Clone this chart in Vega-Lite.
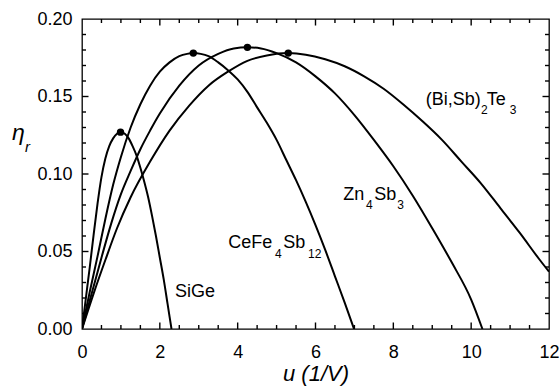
{
  "$schema": "https://vega.github.io/schema/vega-lite/v6.json",
  "autosize": {"type": "none"},
  "padding": {"left": 82, "top": 19, "right": 11, "bottom": 58},
  "width": 467,
  "height": 310,
  "background": "white",
  "config": {
    "font": "Liberation Sans",
    "view": {"stroke": "black", "strokeWidth": 1.3},
    "axis": {"grid": false, "domain": false, "labelColor": "black", "titleColor": "black", "labelFont": "Liberation Sans", "titleFont": "Liberation Sans", "labelFontSize": 18, "labelFlush": false}
  },
  "datasets": {
    "curves": [
      {"series": "SiGe", "u": 0, "eta": 0},
      {"series": "SiGe", "u": 0.1, "eta": 0.02},
      {"series": "SiGe", "u": 0.2, "eta": 0.04},
      {"series": "SiGe", "u": 0.3, "eta": 0.061},
      {"series": "SiGe", "u": 0.4, "eta": 0.081},
      {"series": "SiGe", "u": 0.5, "eta": 0.098},
      {"series": "SiGe", "u": 0.6, "eta": 0.11},
      {"series": "SiGe", "u": 0.7, "eta": 0.118},
      {"series": "SiGe", "u": 0.8, "eta": 0.123},
      {"series": "SiGe", "u": 0.9, "eta": 0.126},
      {"series": "SiGe", "u": 0.99, "eta": 0.127},
      {"series": "SiGe", "u": 1.1, "eta": 0.126},
      {"series": "SiGe", "u": 1.2, "eta": 0.123},
      {"series": "SiGe", "u": 1.3, "eta": 0.118},
      {"series": "SiGe", "u": 1.4, "eta": 0.112},
      {"series": "SiGe", "u": 1.5, "eta": 0.104},
      {"series": "SiGe", "u": 1.6, "eta": 0.095},
      {"series": "SiGe", "u": 1.7, "eta": 0.085},
      {"series": "SiGe", "u": 1.8, "eta": 0.073},
      {"series": "SiGe", "u": 1.9, "eta": 0.06},
      {"series": "SiGe", "u": 2.0, "eta": 0.046},
      {"series": "SiGe", "u": 2.1, "eta": 0.032},
      {"series": "SiGe", "u": 2.2, "eta": 0.016},
      {"series": "SiGe", "u": 2.3, "eta": 0},
      {"series": "CeFe4Sb12", "u": 0, "eta": 0},
      {"series": "CeFe4Sb12", "u": 0.2, "eta": 0.024},
      {"series": "CeFe4Sb12", "u": 0.4, "eta": 0.047},
      {"series": "CeFe4Sb12", "u": 0.6, "eta": 0.071},
      {"series": "CeFe4Sb12", "u": 0.8, "eta": 0.093},
      {"series": "CeFe4Sb12", "u": 1.0, "eta": 0.111},
      {"series": "CeFe4Sb12", "u": 1.25, "eta": 0.13},
      {"series": "CeFe4Sb12", "u": 1.5, "eta": 0.145},
      {"series": "CeFe4Sb12", "u": 1.75, "eta": 0.157},
      {"series": "CeFe4Sb12", "u": 2.0, "eta": 0.166},
      {"series": "CeFe4Sb12", "u": 2.25, "eta": 0.172},
      {"series": "CeFe4Sb12", "u": 2.5, "eta": 0.176},
      {"series": "CeFe4Sb12", "u": 2.7, "eta": 0.1775},
      {"series": "CeFe4Sb12", "u": 2.86, "eta": 0.178},
      {"series": "CeFe4Sb12", "u": 3.05, "eta": 0.1775},
      {"series": "CeFe4Sb12", "u": 3.25, "eta": 0.176},
      {"series": "CeFe4Sb12", "u": 3.5, "eta": 0.172},
      {"series": "CeFe4Sb12", "u": 3.75, "eta": 0.167},
      {"series": "CeFe4Sb12", "u": 4.0, "eta": 0.161},
      {"series": "CeFe4Sb12", "u": 4.25, "eta": 0.153},
      {"series": "CeFe4Sb12", "u": 4.5, "eta": 0.143},
      {"series": "CeFe4Sb12", "u": 4.75, "eta": 0.133},
      {"series": "CeFe4Sb12", "u": 5.0, "eta": 0.122},
      {"series": "CeFe4Sb12", "u": 5.25, "eta": 0.109},
      {"series": "CeFe4Sb12", "u": 5.5, "eta": 0.096},
      {"series": "CeFe4Sb12", "u": 5.75, "eta": 0.082},
      {"series": "CeFe4Sb12", "u": 6.0, "eta": 0.067},
      {"series": "CeFe4Sb12", "u": 6.25, "eta": 0.051},
      {"series": "CeFe4Sb12", "u": 6.5, "eta": 0.034},
      {"series": "CeFe4Sb12", "u": 6.75, "eta": 0.017},
      {"series": "CeFe4Sb12", "u": 6.99, "eta": 0},
      {"series": "Zn4Sb3", "u": 0, "eta": 0},
      {"series": "Zn4Sb3", "u": 0.25, "eta": 0.023},
      {"series": "Zn4Sb3", "u": 0.5, "eta": 0.046},
      {"series": "Zn4Sb3", "u": 0.75, "eta": 0.068},
      {"series": "Zn4Sb3", "u": 1.0, "eta": 0.087},
      {"series": "Zn4Sb3", "u": 1.25, "eta": 0.102},
      {"series": "Zn4Sb3", "u": 1.5, "eta": 0.116},
      {"series": "Zn4Sb3", "u": 1.75, "eta": 0.128},
      {"series": "Zn4Sb3", "u": 2.0, "eta": 0.139},
      {"series": "Zn4Sb3", "u": 2.5, "eta": 0.157},
      {"series": "Zn4Sb3", "u": 3.0, "eta": 0.17},
      {"series": "Zn4Sb3", "u": 3.5, "eta": 0.1775},
      {"series": "Zn4Sb3", "u": 3.9, "eta": 0.181},
      {"series": "Zn4Sb3", "u": 4.25, "eta": 0.1817},
      {"series": "Zn4Sb3", "u": 4.6, "eta": 0.181},
      {"series": "Zn4Sb3", "u": 5.0, "eta": 0.178},
      {"series": "Zn4Sb3", "u": 5.5, "eta": 0.172},
      {"series": "Zn4Sb3", "u": 6.0, "eta": 0.163},
      {"series": "Zn4Sb3", "u": 6.5, "eta": 0.152},
      {"series": "Zn4Sb3", "u": 7.0, "eta": 0.138},
      {"series": "Zn4Sb3", "u": 7.5, "eta": 0.122},
      {"series": "Zn4Sb3", "u": 8.0, "eta": 0.105},
      {"series": "Zn4Sb3", "u": 8.5, "eta": 0.086},
      {"series": "Zn4Sb3", "u": 9.0, "eta": 0.065},
      {"series": "Zn4Sb3", "u": 9.5, "eta": 0.043},
      {"series": "Zn4Sb3", "u": 10.0, "eta": 0.019},
      {"series": "Zn4Sb3", "u": 10.29, "eta": 0},
      {"series": "BiSbTe", "u": 0, "eta": 0},
      {"series": "BiSbTe", "u": 0.3, "eta": 0.023},
      {"series": "BiSbTe", "u": 0.6, "eta": 0.0445},
      {"series": "BiSbTe", "u": 0.9, "eta": 0.065},
      {"series": "BiSbTe", "u": 1.25, "eta": 0.085},
      {"series": "BiSbTe", "u": 1.75, "eta": 0.108},
      {"series": "BiSbTe", "u": 2.25, "eta": 0.128},
      {"series": "BiSbTe", "u": 2.75, "eta": 0.144},
      {"series": "BiSbTe", "u": 3.25, "eta": 0.157},
      {"series": "BiSbTe", "u": 3.75, "eta": 0.166},
      {"series": "BiSbTe", "u": 4.25, "eta": 0.173},
      {"series": "BiSbTe", "u": 4.75, "eta": 0.1765},
      {"series": "BiSbTe", "u": 5.3, "eta": 0.178},
      {"series": "BiSbTe", "u": 5.75, "eta": 0.177},
      {"series": "BiSbTe", "u": 6.25, "eta": 0.174},
      {"series": "BiSbTe", "u": 6.75, "eta": 0.1695},
      {"series": "BiSbTe", "u": 7.25, "eta": 0.163},
      {"series": "BiSbTe", "u": 7.75, "eta": 0.155},
      {"series": "BiSbTe", "u": 8.25, "eta": 0.145},
      {"series": "BiSbTe", "u": 8.75, "eta": 0.134},
      {"series": "BiSbTe", "u": 9.25, "eta": 0.122},
      {"series": "BiSbTe", "u": 9.75, "eta": 0.108},
      {"series": "BiSbTe", "u": 10.25, "eta": 0.094},
      {"series": "BiSbTe", "u": 10.75, "eta": 0.078},
      {"series": "BiSbTe", "u": 11.25, "eta": 0.062},
      {"series": "BiSbTe", "u": 11.75, "eta": 0.045},
      {"series": "BiSbTe", "u": 12.0, "eta": 0.037}
    ],
    "peaks": [
      {"series": "SiGe", "u": 0.99, "eta": 0.127},
      {"series": "CeFe4Sb12", "u": 2.86, "eta": 0.178},
      {"series": "Zn4Sb3", "u": 4.25, "eta": 0.1817},
      {"series": "BiSbTe", "u": 5.3, "eta": 0.178}
    ],
    "labels": [
      {"text": "SiGe", "u": 2.39, "eta": 0.0206},
      {"text": "CeFe", "u": 3.76, "eta": 0.0523},
      {"text": "Sb", "u": 5.17, "eta": 0.0523},
      {"text": "Zn", "u": 6.71, "eta": 0.0832},
      {"text": "Sb", "u": 7.51, "eta": 0.0832},
      {"text": "(Bi,Sb)", "u": 8.83, "eta": 0.1445},
      {"text": "Te", "u": 10.4, "eta": 0.1445}
    ],
    "subs": [
      {"text": "4", "u": 4.96, "eta": 0.0458},
      {"text": "12", "u": 5.81, "eta": 0.0458},
      {"text": "4", "u": 7.3, "eta": 0.0774},
      {"text": "3", "u": 8.1, "eta": 0.0774},
      {"text": "2", "u": 10.25, "eta": 0.1387},
      {"text": "3", "u": 10.99, "eta": 0.1387}
    ],
    "ysym": [{"text": "η", "u": -1.8, "eta": 0.1219}],
    "ysub": [{"text": "r", "u": -1.465, "eta": 0.1144}],
    "xmajor": [{"u": 2}, {"u": 4}, {"u": 6}, {"u": 8}, {"u": 10}],
    "xminor": [{"u": 0.5}, {"u": 1}, {"u": 1.5}, {"u": 2.5}, {"u": 3}, {"u": 3.5}, {"u": 4.5}, {"u": 5}, {"u": 5.5}, {"u": 6.5}, {"u": 7}, {"u": 7.5}, {"u": 8.5}, {"u": 9}, {"u": 9.5}, {"u": 10.5}, {"u": 11}, {"u": 11.5}],
    "ymajor": [{"eta": 0.05}, {"eta": 0.1}, {"eta": 0.15}],
    "yminor": [{"eta": 0.01}, {"eta": 0.02}, {"eta": 0.03}, {"eta": 0.04}, {"eta": 0.06}, {"eta": 0.07}, {"eta": 0.08}, {"eta": 0.09}, {"eta": 0.11}, {"eta": 0.12}, {"eta": 0.13}, {"eta": 0.14}, {"eta": 0.16}, {"eta": 0.17}, {"eta": 0.18}, {"eta": 0.19}]
  },
  "layer": [
    {
      "data": {"name": "curves"},
      "mark": {"type": "line", "color": "black", "strokeWidth": 2, "interpolate": "monotone", "clip": true},
      "encoding": {
        "x": {"field": "u", "type": "quantitative", "scale": {"domain": [0, 12], "nice": false, "zero": false},
          "axis": {"orient": "bottom", "values": [0, 2, 4, 6, 8, 10, 12], "ticks": false, "tickSize": 0, "labelPadding": 14, "title": "u (1/V)", "titleFontSize": 22, "titleFontStyle": "italic", "titleFontWeight": "normal", "titlePadding": 2}},
        "y": {"field": "eta", "type": "quantitative", "scale": {"domain": [0, 0.2], "nice": false, "zero": false},
          "axis": {"orient": "left", "values": [0, 0.05, 0.1, 0.15, 0.2], "format": ".2f", "ticks": false, "tickSize": 0, "labelPadding": 10, "title": null}},
        "detail": {"field": "series"}
      }
    },
    {
      "data": {"name": "peaks"},
      "mark": {"type": "point", "filled": true, "color": "black", "opacity": 1, "size": 55},
      "encoding": {
        "x": {"field": "u", "type": "quantitative"},
        "y": {"field": "eta", "type": "quantitative"}
      }
    },
    {
      "data": {"name": "xmajor"},
      "mark": {"type": "rule", "color": "black", "strokeWidth": 1.4},
      "encoding": {"x": {"field": "u", "type": "quantitative"}, "y": {"datum": 0, "type": "quantitative"}, "y2": {"datum": 0.0042}}
    },
    {
      "data": {"name": "xmajor"},
      "mark": {"type": "rule", "color": "black", "strokeWidth": 1.4},
      "encoding": {"x": {"field": "u", "type": "quantitative"}, "y": {"datum": 0.2, "type": "quantitative"}, "y2": {"datum": 0.1958}}
    },
    {
      "data": {"name": "xminor"},
      "mark": {"type": "rule", "color": "black", "strokeWidth": 1.4},
      "encoding": {"x": {"field": "u", "type": "quantitative"}, "y": {"datum": 0, "type": "quantitative"}, "y2": {"datum": 0.0026}}
    },
    {
      "data": {"name": "xminor"},
      "mark": {"type": "rule", "color": "black", "strokeWidth": 1.4},
      "encoding": {"x": {"field": "u", "type": "quantitative"}, "y": {"datum": 0.2, "type": "quantitative"}, "y2": {"datum": 0.1974}}
    },
    {
      "data": {"name": "ymajor"},
      "mark": {"type": "rule", "color": "black", "strokeWidth": 1.4},
      "encoding": {"y": {"field": "eta", "type": "quantitative"}, "x": {"datum": 0, "type": "quantitative"}, "x2": {"datum": 0.167}}
    },
    {
      "data": {"name": "ymajor"},
      "mark": {"type": "rule", "color": "black", "strokeWidth": 1.4},
      "encoding": {"y": {"field": "eta", "type": "quantitative"}, "x": {"datum": 12, "type": "quantitative"}, "x2": {"datum": 11.833}}
    },
    {
      "data": {"name": "yminor"},
      "mark": {"type": "rule", "color": "black", "strokeWidth": 1.4},
      "encoding": {"y": {"field": "eta", "type": "quantitative"}, "x": {"datum": 0, "type": "quantitative"}, "x2": {"datum": 0.103}}
    },
    {
      "data": {"name": "yminor"},
      "mark": {"type": "rule", "color": "black", "strokeWidth": 1.4},
      "encoding": {"y": {"field": "eta", "type": "quantitative"}, "x": {"datum": 12, "type": "quantitative"}, "x2": {"datum": 11.897}}
    },
    {
      "data": {"name": "labels"},
      "mark": {"type": "text", "align": "left", "baseline": "alphabetic", "fontSize": 18, "color": "black", "font": "Liberation Sans"},
      "encoding": {
        "x": {"field": "u", "type": "quantitative"},
        "y": {"field": "eta", "type": "quantitative"},
        "text": {"field": "text"}
      }
    },
    {
      "data": {"name": "subs"},
      "mark": {"type": "text", "align": "left", "baseline": "alphabetic", "fontSize": 12, "color": "black", "font": "Liberation Sans"},
      "encoding": {
        "x": {"field": "u", "type": "quantitative"},
        "y": {"field": "eta", "type": "quantitative"},
        "text": {"field": "text"}
      }
    },
    {
      "data": {"name": "ysym"},
      "mark": {"type": "text", "align": "left", "baseline": "alphabetic", "fontSize": 23, "fontStyle": "italic", "color": "black", "font": "Liberation Sans"},
      "encoding": {
        "x": {"field": "u", "type": "quantitative"},
        "y": {"field": "eta", "type": "quantitative"},
        "text": {"field": "text"}
      }
    },
    {
      "data": {"name": "ysub"},
      "mark": {"type": "text", "align": "left", "baseline": "alphabetic", "fontSize": 15, "fontStyle": "italic", "color": "black", "font": "Liberation Sans"},
      "encoding": {
        "x": {"field": "u", "type": "quantitative"},
        "y": {"field": "eta", "type": "quantitative"},
        "text": {"field": "text"}
      }
    }
  ]
}
